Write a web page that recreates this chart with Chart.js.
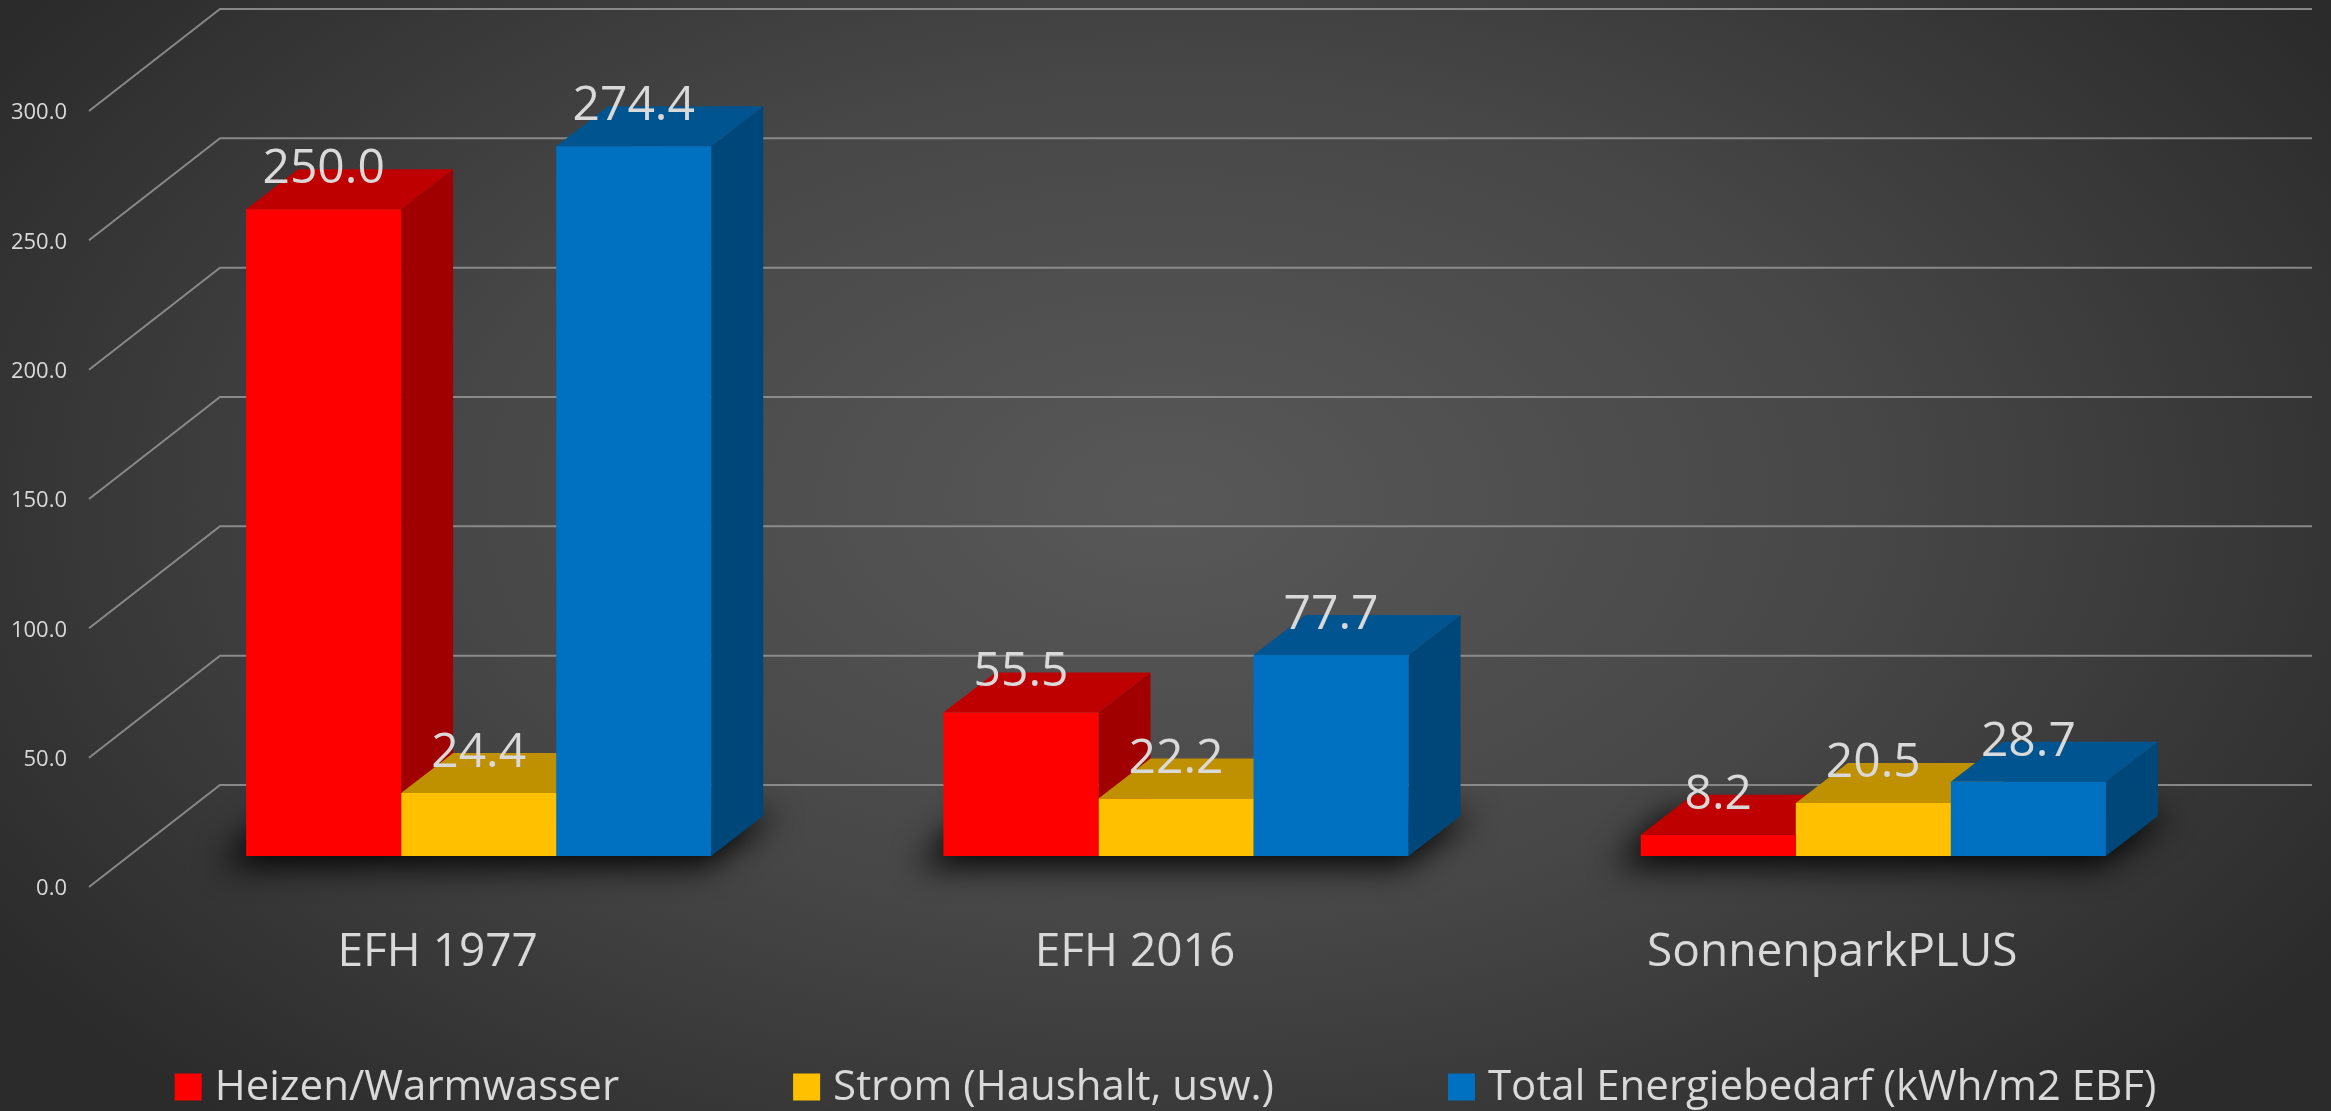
<!DOCTYPE html>
<html>
<head>
<meta charset="utf-8">
<script src="https://cdn.jsdelivr.net/npm/chart.js@4.4.1/dist/chart.umd.min.js"></script>
<style>
  html, body { margin: 0; padding: 0; }
  body {
    width: 2331px; height: 1111px; overflow: hidden;
    background: radial-gradient(ellipse 60% 75% at 50% 45%, #585858 0%, #474747 50%, #2b2b2b 100%);
  }
  #wrap { position: relative; width: 2331px; height: 1111px; }
</style>
</head>
<body>
<div id="wrap"><canvas id="energyChart"></canvas></div>
<script>
// Data
const categories = ['EFH 1977', 'EFH 2016', 'SonnenparkPLUS'];
const seriesNames = ['Heizen/Warmwasser', 'Strom (Haushalt, usw.)', 'Total Energiebedarf (kWh/m2 EBF)'];
const heizenValues = [250.0, 55.5, 8.2];
const stromValues = [24.4, 22.2, 20.5];
const totalValues = [274.4, 77.7, 28.7];
const seriesColors = ['#FF0000', '#FFC000', '#0070C0'];
const yTickValues = [0, 50, 100, 150, 200, 250, 300];

const textColor = '#d9d9d9';
const gridColor = 'rgba(150,150,150,0.85)';
const fontFamily = '"Open Sans", "Noto Sans", sans-serif';

// fake 3D projection offsets (pixels)
const depthX = 52, depthY = 40;          // bar depth
const backX = 90, backY = 71;            // back wall relative to bar front
const frontX = -41, frontY = 31;         // front edge of the floor

Chart.defaults.font.family = fontFamily;

// darken a hex colour
function shade(hex, f) {
    const n = parseInt(hex.slice(1), 16);
    const r = Math.round(((n >> 16) & 255) * f);
    const g = Math.round(((n >> 8) & 255) * f);
    const b = Math.round((n & 255) * f);
    return `rgb(${r},${g},${b})`;
}

function fillPoly(ctx, pts) {
    ctx.beginPath();
    ctx.moveTo(pts[0][0], pts[0][1]);
    for (let k = 1; k < pts.length; k++) ctx.lineTo(pts[k][0], pts[k][1]);
    ctx.closePath();
    ctx.fill();
}

const fake3d = {
    id: 'fake3d',
    beforeDatasetsDraw(chart) {
        const ctx = chart.ctx;
        const yScale = chart.scales.y;
        const area = chart.chartArea;
        ctx.save();

        // back wall gridlines and side wall diagonals
        ctx.strokeStyle = gridColor;
        ctx.lineWidth = 2;
        yTickValues.forEach((v) => {
            const py = yScale.getPixelForValue(v);
            ctx.beginPath();
            ctx.moveTo(area.left + frontX, py + frontY);
            ctx.lineTo(area.left + backX, py - backY);
            ctx.lineTo(area.right + backX, py - backY);
            ctx.stroke();
        });

        // value axis labels on the front edge
        ctx.fillStyle = textColor;
        ctx.font = `22px ${fontFamily}`;
        ctx.textAlign = 'right';
        ctx.textBaseline = 'middle';
        yTickValues.forEach((v) => {
            const py = yScale.getPixelForValue(v);
            ctx.fillText(v.toFixed(1), area.left + frontX - 22, py + frontY + 2);
        });

        const metas = chart.data.datasets.map((d, i) => chart.getDatasetMeta(i));

        // soft shadow under each group
        categories.forEach((c, i) => {
            const first = metas[0].data[i].getProps(['x', 'width', 'base'], true);
            const last = metas[metas.length - 1].data[i].getProps(['x', 'width', 'base'], true);
            const x0 = first.x - first.width / 2;
            const x1 = last.x + last.width / 2;
            const b = first.base;
            ctx.save();
            ctx.filter = 'blur(16px)';
            ctx.fillStyle = 'rgba(0,0,0,0.95)';
            fillPoly(ctx, [[x0 - 26, b + 10], [x1 - 6, b + 10], [x1 + depthX + 14, b - depthY - 2], [x0 + depthX - 26, b - depthY - 2]]);
            ctx.restore();
        });

        // side and top faces, left to right so neighbours overlap correctly
        categories.forEach((c, i) => {
            metas.forEach((meta, j) => {
                const bar = meta.data[i].getProps(['x', 'y', 'base', 'width'], true);
                const l = bar.x - bar.width / 2;
                const r = bar.x + bar.width / 2;
                const col = chart.data.datasets[j].backgroundColor;
                ctx.fillStyle = shade(col, 0.63);
                fillPoly(ctx, [[r, bar.base], [r, bar.y], [r + depthX, bar.y - depthY], [r + depthX, bar.base - depthY]]);
                ctx.fillStyle = shade(col, 0.75);
                fillPoly(ctx, [[l, bar.y], [r, bar.y], [r + depthX, bar.y - depthY], [l + depthX, bar.y - depthY]]);
            });
        });
        ctx.restore();
    },
    afterDatasetsDraw(chart) {
        // data labels above each bar
        const ctx = chart.ctx;
        ctx.save();
        ctx.fillStyle = textColor;
        ctx.font = `48px ${fontFamily}`;
        ctx.textAlign = 'center';
        ctx.textBaseline = 'alphabetic';
        chart.data.datasets.forEach((ds, j) => {
            chart.getDatasetMeta(j).data.forEach((el, i) => {
                const p = el.getProps(['x', 'y'], true);
                ctx.fillText(ds.data[i].toFixed(1), p.x, p.y - 26);
            });
        });
        ctx.restore();
    },
    afterDraw(chart) {
        // legend row at the bottom
        const ctx = chart.ctx;
        ctx.save();
        ctx.font = `42px ${fontFamily}`;
        ctx.textBaseline = 'middle';
        ctx.textAlign = 'left';
        const box = 27, gapText = 13, gapItem = 174;
        const widths = chart.data.datasets.map((ds) => box + gapText + ctx.measureText(ds.label).width);
        const total = widths.reduce((a, b) => a + b, 0) + gapItem * (widths.length - 1);
        let x = (chart.width - total) / 2;
        const cy = 1087;
        chart.data.datasets.forEach((ds, j) => {
            ctx.fillStyle = ds.backgroundColor;
            ctx.fillRect(x, cy - box / 2, box, box);
            ctx.fillStyle = textColor;
            ctx.fillText(ds.label, x + box + gapText, cy + 1);
            x += widths[j] + gapItem;
        });
        ctx.restore();
    }
};

const chartCtx = document.getElementById('energyChart').getContext('2d');
const energyChart = new Chart(chartCtx, {
    type: 'bar',
    data: {
        labels: categories,
        datasets: [
            { label: seriesNames[0], data: heizenValues, backgroundColor: seriesColors[0] },
            { label: seriesNames[1], data: stromValues, backgroundColor: seriesColors[1] },
            { label: seriesNames[2], data: totalValues, backgroundColor: seriesColors[2] },
        ],
    },
    options: {
        responsive: true,
        maintainAspectRatio: false,
        animation: false,
        layout: { padding: { left: 130, right: 109, top: 80, bottom: 115 } },
        datasets: { bar: { barPercentage: 1, categoryPercentage: 0.667, borderWidth: 0 } },
        scales: {
            x: {
                grid: { display: false },
                border: { display: false },
                ticks: { color: textColor, font: { size: 46 }, labelOffset: -41, padding: 61 },
                afterFit(scale) { scale.height = 140; },
            },
            y: { display: false, min: 0, max: 300 },
        },
        plugins: {
            legend: { display: false },
            tooltip: { enabled: false },
        },
    },
    plugins: [fake3d],
});
</script>
</body>
</html>
